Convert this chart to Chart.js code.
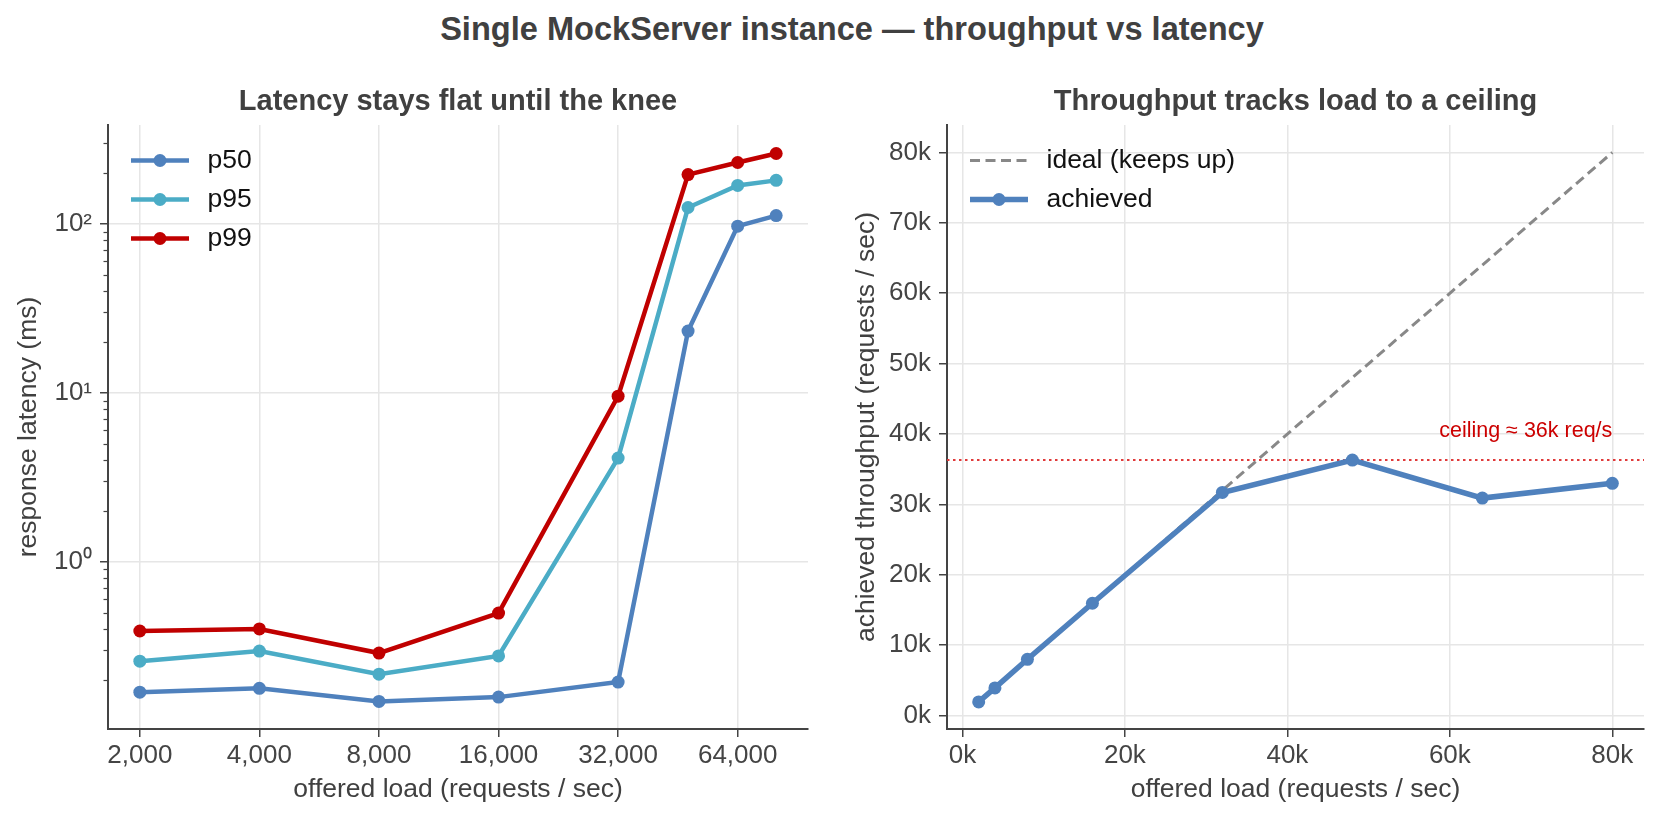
<!DOCTYPE html>
<html>
<head>
<meta charset="utf-8">
<title>MockServer throughput vs latency</title>
<script src="https://cdn.jsdelivr.net/npm/chart.js@4.4.1/dist/chart.umd.min.js"></script>
<style>
  body { margin: 0; background: #fff; }
  #fig { position: relative; width: 1662px; height: 820px; overflow: hidden; }
  #suptitle {
    position: absolute; top: 13px; left: 852px; transform: translateX(-50%);
    white-space: nowrap; font: bold 32.6px/32px "Liberation Sans", Arial, sans-serif; color: #404040;
  }
  .panel { position: absolute; top: 0; width: 831px; height: 820px; }
</style>
</head>
<body>
<div id="fig">
  <div id="suptitle">Single MockServer instance — throughput vs latency</div>
  <div class="panel" style="left:0"><canvas id="latencyChart" width="831" height="820"></canvas></div>
  <div class="panel" style="left:831px"><canvas id="throughputChart" width="831" height="820"></canvas></div>
</div>
<script>
// offered load steps (requests / sec)
const offeredLoad = [2000, 4000, 8000, 16000, 32000, 48000, 64000, 80000];

// response latency percentiles (ms)
const p50 = [0.169, 0.178, 0.149, 0.158, 0.194, 23.2, 97, 112];
const p95 = [0.258, 0.296, 0.216, 0.277, 4.11, 125, 169, 181];
const p99 = [0.389, 0.40, 0.288, 0.497, 9.55, 196, 231, 261];

// throughput (requests / sec)
const idealThroughput = [2000, 4000, 8000, 16000, 32000, 48000, 64000, 80000];
const achievedThroughput = [1950, 3930, 8000, 15960, 31700, 36300, 30900, 33000];
const ceilingThroughput = 36300;

// tick values and labels
const loadTicks = [2000, 4000, 8000, 16000, 32000, 64000];
const loadTickLabels = ["2,000", "4,000", "8,000", "16,000", "32,000", "64,000"];
const latencyTicks = [1, 10, 100];
const latencyTickLabels = ["10\u2070", "10\u00b9", "10\u00b2"];
const offeredTicks = [0, 20000, 40000, 60000, 80000];
const offeredTickLabels = ["0k", "20k", "40k", "60k", "80k"];
const throughputTicks = [0, 10000, 20000, 30000, 40000, 50000, 60000, 70000, 80000];
const throughputTickLabels = ["0k", "10k", "20k", "30k", "40k", "50k", "60k", "70k", "80k"];

const FONT = "'Liberation Sans', Arial, sans-serif";
const BLUE = "#4f81bd";
const CYAN = "#4bacc6";
const RED = "#c00000";
const GRID = "#e6e6e6";
const AXIS = "#444444";
const TEXT = "#404040";

Chart.defaults.font.family = FONT;
Chart.defaults.color = TEXT;

function points(xs, ys) {
  return xs.map((x, i) => ({ x: x, y: ys[i] }));
}

// matplotlib-style legend drawn inside the plot, top left
const inlineLegend = {
  id: "inlineLegend",
  afterDatasetsDraw(chart, args, opts) {
    if (!opts.items) return;
    const { ctx, chartArea } = chart;
    ctx.save();
    opts.items.forEach((idx, row) => {
      const ds = chart.data.datasets[idx];
      const y = chartArea.top + 35.5 + row * 39;
      const x0 = chartArea.left + 23;
      const x1 = chartArea.left + 81;
      ctx.strokeStyle = ds.borderColor;
      ctx.lineWidth = ds.borderWidth;
      ctx.setLineDash(ds.borderDash || []);
      ctx.beginPath();
      ctx.moveTo(x0, y);
      ctx.lineTo(x1, y);
      ctx.stroke();
      ctx.setLineDash([]);
      if (ds.pointRadius > 0) {
        ctx.fillStyle = ds.borderColor;
        ctx.beginPath();
        ctx.arc((x0 + x1) / 2, y, ds.pointRadius, 0, Math.PI * 2);
        ctx.fill();
      }
      ctx.fillStyle = "#111";
      ctx.font = "26.5px " + FONT;
      ctx.textAlign = "left";
      ctx.textBaseline = "middle";
      ctx.fillText(ds.label, chartArea.left + 99.5, y);
    });
    ctx.restore();
  }
};

// small unlabelled minor ticks on the log y axis
const minorTicks = {
  id: "minorTicks",
  afterDraw(chart, args, opts) {
    if (!opts.enabled) return;
    const s = chart.scales.y;
    const ctx = chart.ctx;
    ctx.save();
    ctx.strokeStyle = AXIS;
    ctx.lineWidth = 1.2;
    [0.1, 1, 10, 100].forEach(decade => {
      for (let m = 2; m <= 9; m++) {
        const v = m * decade;
        if (v < s.min || v > s.max) continue;
        const y = Math.round(s.getPixelForValue(v)) + 0.5;
        ctx.beginPath();
        ctx.moveTo(s.right - 4.5, y);
        ctx.lineTo(s.right, y);
        ctx.stroke();
      }
    });
    ctx.restore();
  }
};

// text note placed in data coordinates
const noteText = {
  id: "noteText",
  afterDatasetsDraw(chart, args, opts) {
    if (!opts.text) return;
    const ctx = chart.ctx;
    const x = chart.scales.x.getPixelForValue(opts.x);
    const y = chart.scales.y.getPixelForValue(opts.y);
    ctx.save();
    ctx.fillStyle = opts.color;
    ctx.font = "21.5px " + FONT;
    ctx.textAlign = "right";
    ctx.textBaseline = "alphabetic";
    ctx.fillText(opts.text, x, y);
    ctx.restore();
  }
};

function axisStyle(tickLabels, tickValues, title, titlePad, size) {
  return {
    grid: { color: GRID, lineWidth: 1.5, tickColor: AXIS, tickLength: 8, tickWidth: 1.5 },
    border: { display: true, color: AXIS, width: 2 },
    ticks: {
      color: AXIS,
      font: { size: 26 },
      autoSkip: false,
      maxRotation: 0,
      padding: size.pad,
      callback: (value, index) => tickLabels[index]
    },
    afterBuildTicks(axis) {
      axis.ticks = tickValues.map(v => ({ value: v }));
    },
    title: {
      display: true,
      text: title,
      color: TEXT,
      font: { size: 26.5 },
      padding: titlePad
    },
    afterFit(axis) {
      if (size.width) axis.width = size.width;
      if (size.height) axis.height = size.height;
    }
  };
}

function subplotTitle(text) {
  return {
    display: true,
    text: text,
    color: TEXT,
    fullSize: false,
    font: { size: 29, weight: "bold" },
    padding: { top: 84.6, bottom: 5.6 }
  };
}

const latencyCanvas = document.getElementById("latencyChart");
const throughputCanvas = document.getElementById("throughputChart");

if (latencyCanvas) {
  new Chart(latencyCanvas, {
    type: "line",
    data: {
      datasets: [
        { label: "p50", data: points(offeredLoad, p50), borderColor: BLUE, backgroundColor: BLUE,
          borderWidth: 4.5, pointRadius: 6.5, pointBorderWidth: 0, pointBackgroundColor: BLUE },
        { label: "p95", data: points(offeredLoad, p95), borderColor: CYAN, backgroundColor: CYAN,
          borderWidth: 4.5, pointRadius: 6.5, pointBorderWidth: 0, pointBackgroundColor: CYAN },
        { label: "p99", data: points(offeredLoad, p99), borderColor: RED, backgroundColor: RED,
          borderWidth: 4.5, pointRadius: 6.5, pointBorderWidth: 0, pointBackgroundColor: RED }
      ]
    },
    options: {
      responsive: false,
      animation: false,
      layout: { padding: { left: 0, right: 23, top: 0, bottom: 0 } },
      elements: { line: { tension: 0 } },
      scales: {
        x: Object.assign({ type: "logarithmic", min: 1663, max: 96210 },
          axisStyle(loadTickLabels, loadTicks, "offered load (requests / sec)",
            { top: 0, bottom: 14 }, { height: 91, pad: 3 })),
        y: Object.assign({ type: "logarithmic", min: 0.1023, max: 385 },
          axisStyle(latencyTickLabels, latencyTicks, "response latency (ms)",
            { top: 13, bottom: 0 }, { width: 108, pad: 8 }))
      },
      plugins: {
        legend: { display: false },
        tooltip: { enabled: false },
        title: subplotTitle("Latency stays flat until the knee"),
        inlineLegend: { items: [0, 1, 2] },
        minorTicks: { enabled: true }
      }
    },
    plugins: [inlineLegend, minorTicks]
  });
}

if (throughputCanvas) {
  new Chart(throughputCanvas, {
    type: "line",
    data: {
      datasets: [
        { label: "ideal (keeps up)", data: points(offeredLoad, idealThroughput), borderColor: "#888888",
          borderWidth: 3, borderDash: [10, 5.5], pointRadius: 0, order: 2 },
        { label: "achieved", data: points(offeredLoad, achievedThroughput), borderColor: BLUE,
          backgroundColor: BLUE, borderWidth: 5.5, pointRadius: 6.5, pointBorderWidth: 0,
          pointBackgroundColor: BLUE, order: 0 },
        { label: "ceiling", data: points([-1900, 83900], [ceilingThroughput, ceilingThroughput]),
          borderColor: "#e03a3a", borderWidth: 2, borderDash: [2.5, 3.5], pointRadius: 0, order: 3 }
      ]
    },
    options: {
      responsive: false,
      animation: false,
      layout: { padding: { left: 0, right: 18, top: 0, bottom: 0 } },
      elements: { line: { tension: 0 } },
      scales: {
        x: Object.assign({ type: "linear", min: -1900, max: 83900 },
          axisStyle(offeredTickLabels, offeredTicks, "offered load (requests / sec)",
            { top: 0, bottom: 14 }, { height: 91, pad: 3 })),
        y: Object.assign({ type: "linear", min: -1900, max: 83900 },
          axisStyle(throughputTickLabels, throughputTicks, "achieved throughput (requests / sec)",
            { top: 20, bottom: 0 }, { width: 116, pad: 8 }))
      },
      plugins: {
        legend: { display: false },
        tooltip: { enabled: false },
        title: subplotTitle("Throughput tracks load to a ceiling"),
        inlineLegend: { items: [0, 1] },
        noteText: { text: "ceiling \u2248 36k req/s", x: 80000, y: 39600, color: "#cc0000" }
      }
    },
    plugins: [inlineLegend, noteText]
  });
}
</script>
</body>
</html>
